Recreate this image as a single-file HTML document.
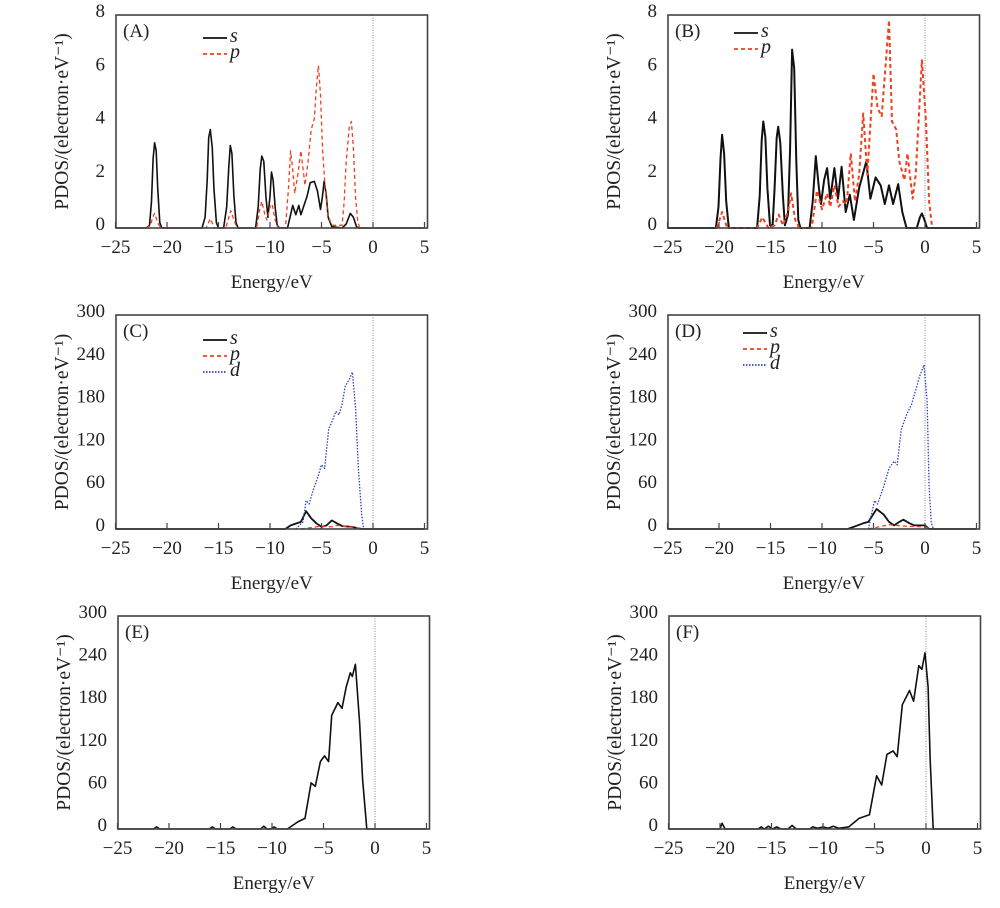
<!DOCTYPE html>
<html><head><meta charset="utf-8"><style>
body{margin:0;background:#fff;}
svg text{font-family:"Liberation Serif",serif;fill:#222;}
</style></head><body>
<svg id="fig" width="1000" height="903" viewBox="0 0 1000 903" xmlns="http://www.w3.org/2000/svg"></svg>
<script>
const xTicks=[-25,-20,-15,-10,-5,0,5];
const yTicksAB=[0,2,4,6,8];
const yTicksCF=[0,60,120,180,240,300];
const A_s=[[-25,0],[-22,0],[-21.7,0.1],[-21.5,1.0],[-21.35,2.6],[-21.2,3.2],[-21.05,2.9],[-20.9,1.5],[-20.7,0.2],[-20.5,0],[-16.6,0],[-16.3,0.4],[-16.1,1.8],[-15.95,3.4],[-15.8,3.7],[-15.6,3.0],[-15.45,1.5],[-15.2,0.2],[-15.0,0],[-14.5,0],[-14.2,0.8],[-14.0,2.3],[-13.85,3.1],[-13.7,2.8],[-13.5,1.2],[-13.3,0.2],[-13.1,0],[-11.4,0],[-11.15,0.8],[-10.95,2.2],[-10.8,2.7],[-10.6,2.5],[-10.4,1.2],[-10.2,0.4],[-10.0,1.2],[-9.85,2.1],[-9.7,1.8],[-9.5,0.8],[-9.3,0.1],[-9.1,0],[-8.3,0],[-8,0.5],[-7.8,0.85],[-7.5,0.5],[-7.2,0.85],[-7,0.5],[-6.7,0.85],[-6.4,1.2],[-6.1,1.7],[-5.7,1.75],[-5.4,1.4],[-5.1,0.7],[-4.9,1.2],[-4.75,1.75],[-4.55,1.3],[-4.35,0.4],[-4,0.05],[-3,0],[-2.6,0.15],[-2.2,0.55],[-1.9,0.4],[-1.6,0.05],[-1.4,0],[5,0]];
const A_p=[[-22,0],[-21.6,0.1],[-21.4,0.4],[-21.2,0.55],[-20.9,0.2],[-20.6,0],[-16.2,0],[-15.8,0.35],[-15.4,0],[-14.3,0],[-14.0,0.4],[-13.8,0.65],[-13.5,0.3],[-13.2,0],[-11.3,0],[-11.0,0.7],[-10.8,1.0],[-10.5,0.5],[-10.3,0.3],[-10.0,0.8],[-9.8,0.9],[-9.5,0.3],[-9.2,0],[-8.5,0],[-8.2,1.5],[-8,2.9],[-7.8,2.2],[-7.6,1.3],[-7.3,2.0],[-7.0,2.9],[-6.6,1.6],[-6.3,2.5],[-6,3.7],[-5.7,4.1],[-5.5,5.3],[-5.3,6.1],[-5.1,5],[-4.9,3],[-4.7,1.8],[-4.4,0.5],[-4,0.1],[-3,0.1],[-2.8,1.0],[-2.6,2.5],[-2.3,3.8],[-2.1,4.0],[-1.9,3],[-1.7,1.2],[-1.5,0.3],[-1.3,0]];
const B_s=[[-25,0],[-20.3,0],[-20.05,0.8],[-19.85,2.6],[-19.7,3.5],[-19.5,2.8],[-19.3,1.0],[-19.05,0],[-16.3,0],[-16.05,1.2],[-15.85,3.3],[-15.7,4.0],[-15.5,3.4],[-15.3,1.5],[-15.05,0.1],[-14.8,0.1],[-14.6,1.5],[-14.4,3.4],[-14.25,3.8],[-14.05,3.2],[-13.8,1.2],[-13.6,0.1],[-13.3,0.5],[-13.1,3.0],[-12.9,6.7],[-12.7,6.0],[-12.5,2.5],[-12.3,0.3],[-12.1,0],[-11.2,0],[-10.9,1],[-10.6,2.7],[-10.3,1.5],[-10.1,0.9],[-9.8,1.8],[-9.5,2.25],[-9.2,1.1],[-8.8,2.25],[-8.45,1.1],[-8.1,2.3],[-7.7,0.6],[-7.3,1.25],[-6.9,0.3],[-6.4,1.5],[-5.7,2.5],[-5.3,1.1],[-4.8,1.9],[-4.3,1.6],[-3.9,0.9],[-3.5,1.6],[-3.1,0.9],[-2.6,1.65],[-2.2,0.6],[-1.8,0],[-0.8,0],[-0.5,0.4],[-0.3,0.55],[-0.05,0.3],[0.2,0],[5,0]];
const B_p=[[-20.2,0],[-19.7,0.6],[-19.2,0],[-16.3,0],[-15.8,0.4],[-15.2,0],[-14.6,0.1],[-14.2,0.5],[-13.8,0.1],[-13.3,0.6],[-13,1.3],[-12.6,0.3],[-12.2,0],[-11,0],[-10.5,1.4],[-10,0.7],[-9.5,1.3],[-9.2,0.8],[-8.8,1.6],[-8.4,0.8],[-8,1],[-7.6,0.9],[-7.2,2.8],[-6.8,1],[-6.4,2.0],[-6,4.3],[-5.6,2],[-5,5.8],[-4.6,4.5],[-4.2,4.2],[-3.5,7.8],[-3.2,4],[-2.8,3.7],[-2.5,2.5],[-2,1.8],[-1.7,2.8],[-1.2,1.1],[-0.9,2],[-0.3,6.3],[0.1,4],[0.4,1],[0.7,0]];
const C_s=[[-25,0],[-8.5,0],[-8,5],[-7,10],[-6.5,25],[-6,15],[-5.5,8],[-5,3],[-4.5,5],[-4,12],[-3.5,8],[-3,4],[-2,3],[-1.5,1],[-1,0],[5,0]];
const C_p=[[-7,0],[-5,4],[-4,3],[-3.5,5],[-2,3],[-1.2,0]];
const C_d=[[-7.5,0],[-6.8,10],[-6.5,40],[-6.2,35],[-5.8,55],[-5.3,75],[-5,90],[-4.7,85],[-4.3,140],[-4,150],[-3.6,165],[-3.3,160],[-3,175],[-2.7,200],[-2.3,210],[-2,220],[-1.7,170],[-1.4,80],[-1.1,20],[-0.9,0]];
const D_s=[[-25,0],[-7.5,0],[-6,8],[-5.5,10],[-4.7,28],[-4,20],[-3.5,10],[-3,5],[-2.5,10],[-2.1,13],[-1.5,8],[-1,5],[0,5],[0.3,1],[0.5,0],[5,0]];
const D_p=[[-5.5,0],[-4.5,3],[-3.5,6],[-2,4],[0,3],[0.5,0]];
const D_d=[[-5.5,0],[-5.2,20],[-4.9,40],[-4.6,35],[-4,60],[-3.5,85],[-3,95],[-2.7,90],[-2.3,140],[-1.8,160],[-1.3,175],[-0.8,200],[-0.5,215],[-0.1,230],[0.2,180],[0.4,60],[0.6,10],[0.8,0]];
const E_t=[[-25,0],[-21.5,0],[-21.2,3],[-20.9,0],[-16.1,0],[-15.8,3],[-15.5,0],[-14.1,0],[-13.8,3],[-13.5,0],[-11.1,0],[-10.8,4],[-10.5,0],[-10.1,0],[-9.8,3],[-9.5,0],[-8.5,0],[-7.5,10],[-6.8,15],[-6.2,65],[-5.8,60],[-5.3,95],[-4.9,103],[-4.5,95],[-4.2,160],[-3.6,178],[-3.2,170],[-2.8,200],[-2.4,220],[-2.2,215],[-1.9,232],[-1.5,150],[-1.2,70],[-0.8,0],[5,0]];
const F_t=[[-25,0],[-20,0],[-19.8,8],[-19.5,0],[-16.3,0],[-16,3],[-15.7,0],[-15.3,4],[-14.9,0],[-14.5,3],[-14.1,0],[-13.4,0],[-13,5],[-12.6,0],[-11.3,0],[-11,3],[-10.5,1],[-10,3],[-9.5,1],[-9,4],[-8.5,1],[-7.5,3],[-6.5,15],[-5.5,20],[-4.8,75],[-4.3,62],[-3.8,105],[-3.2,110],[-2.8,102],[-2.3,175],[-1.6,195],[-1.2,180],[-0.7,230],[-0.4,225],[-0.1,248],[0.2,200],[0.4,100],[0.7,0],[5,0]];

const NS="http://www.w3.org/2000/svg";
const svg=document.getElementById('fig');
function mk(tag,attrs,parent){const e=document.createElementNS(NS,tag);for(const k in attrs)e.setAttribute(k,attrs[k]);(parent||svg).appendChild(e);return e;}
const panels=[
 {id:'A',x0:373,top:15,bot:228,yMax:8,yt:yTicksAB,series:[[A_s,'#111','none',1.6],[A_p,'#f04020','4,3',1.3]],leg:{x:203,y:38,items:[['s','#111','none'],['p','#f04020','4,3']]}},
 {id:'B',x0:925,top:15,bot:228,yMax:8,yt:yTicksAB,series:[[B_s,'#111','none',2],[B_p,'#f04020','4,3',2]],leg:{x:734,y:33,items:[['s','#111','none'],['p','#f04020','4,3']]}},
 {id:'C',x0:373,top:315,bot:529,yMax:300,yt:yTicksCF,series:[[C_s,'#111','none',1.8],[C_p,'#f04020','4,3',1.3],[C_d,'#3040c0','1.5,1.5',1.3]],leg:{x:203,y:340,items:[['s','#111','none'],['p','#f04020','4,3'],['d','#3040c0','1.5,1.5']]}},
 {id:'D',x0:925,top:315,bot:529,yMax:300,yt:yTicksCF,series:[[D_s,'#111','none',1.8],[D_p,'#f04020','4,3',1.3],[D_d,'#3040c0','1.5,1.5',1.3]],leg:{x:743,y:333,items:[['s','#111','none'],['p','#f04020','4,3'],['d','#3040c0','1.5,1.5']]}},
 {id:'E',x0:375,top:616,bot:829,yMax:300,yt:yTicksCF,series:[[E_t,'#111','none',1.6]],leg:null},
 {id:'F',x0:926,top:616,bot:829,yMax:300,yt:yTicksCF,series:[[F_t,'#111','none',1.6]],leg:null}
];
const SC=10.3;
panels.forEach(p=>{
 const g=mk('g',{});
 
 
 const X=e=>p.x0+SC*e;
 const Y=v=>p.bot-(p.bot-p.top)*v/p.yMax;
 const L=X(-25)+0.5,R=X(5)+3;
 const zl=mk('line',{x1:X(0),x2:X(0),y1:p.top,y2:p.bot,stroke:'#888','stroke-width':1,'stroke-dasharray':'1,1.5'},g);
 
 
 p.series.forEach((s,i)=>{
  const pl=mk('polyline',{points:s[0].map(d=>X(d[0]).toFixed(1)+','+Y(d[1]).toFixed(1)).join(' '),fill:'none',stroke:s[1],'stroke-width':s[3],'stroke-dasharray':s[2],'stroke-linejoin':'round'},g);
  
  
 });
 const box=mk('rect',{x:L,y:p.top,width:R-L,height:p.bot-p.top,fill:'none',stroke:'#444','stroke-width':1.6},g);
 
 
 xTicks.forEach(t=>{
  mk('line',{x1:X(t),x2:X(t),y1:p.bot,y2:p.bot-6,stroke:'#444','stroke-width':1.2},g);
  const tx=mk('text',{x:X(t),y:p.bot+25,'text-anchor':'middle','font-size':19},g);
  tx.textContent=(t<0?'\u2212'+(-t):String(t));
  
  
 });
 p.yt.forEach(t=>{
  const ty=mk('text',{x:L-11,y:Y(t)+2,'text-anchor':'end','font-size':19},g);
  ty.textContent=String(t);
  
  
 });
 const xt=mk('text',{x:(L+R)/2,y:p.bot+60,'text-anchor':'middle','font-size':19},g);
 xt.textContent='Energy/eV';
 
 
 const yx=L-48, yy=(p.top+p.bot)/2;
 const yt=mk('text',{x:yx,y:yy,'text-anchor':'middle','font-size':19.5,transform:'rotate(-90 '+yx+' '+yy+')'},g);
 yt.textContent='PDOS/(electron\u00b7eV\u207b\u00b9)';
 
 
 const pt=mk('text',{x:L+7,y:p.top+22,'font-size':19},g);
 pt.textContent='('+p.id+')';
 
 
 if(p.leg){p.leg.items.forEach((it,i)=>{
  const yy2=p.leg.y+i*16;
  const ll=mk('line',{x1:p.leg.x,x2:p.leg.x+24,y1:yy2,y2:yy2,stroke:it[1],'stroke-width':1.8,'stroke-dasharray':it[2]},g);
  
  
  const lt=mk('text',{x:p.leg.x+27,y:yy2+4,'font-size':20,'font-style':'italic'},g);
  lt.textContent=it[0];
  
  
 });}
});
</script>
</body></html>
